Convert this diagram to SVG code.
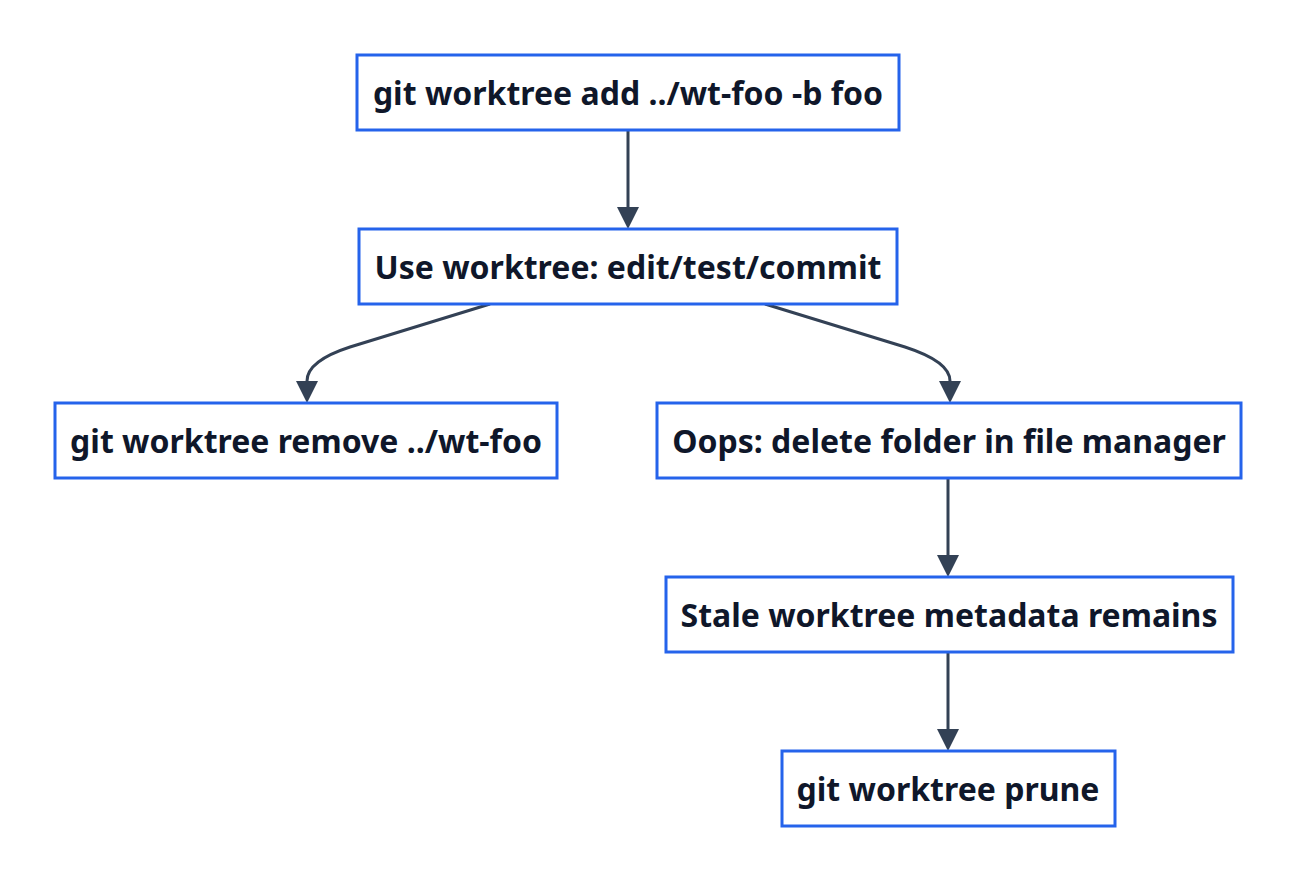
<svg xmlns="http://www.w3.org/2000/svg" width="1298" height="882" viewBox="0 0 1298 882">
<defs>
<style>
.node rect{fill:#ffffff;stroke:#2563eb;stroke-width:3}
.node text{font-family:"Noto Sans","Open Sans",sans-serif;font-weight:bold;font-size:32px;fill:#0f172a;text-anchor:middle;dominant-baseline:central}
.edges path{fill:none;stroke:#334155;stroke-width:3}
</style>
<marker id="arr" viewBox="0 0 22 22" refX="0" refY="11" markerWidth="22" markerHeight="22" markerUnits="userSpaceOnUse" orient="auto">
<path d="M0,0 L22,11 L0,22 z" fill="#334155"/>
</marker>
</defs>
<rect width="1298" height="882" fill="#ffffff"/>
<g class="edges">
<path d="M628,130 L628,207" marker-end="url(#arr)"/>
<path d="M490,304 L350,347 C316,358 307,370 307,381" marker-end="url(#arr)"/>
<path d="M765,304 L905,347 C939,358 950,370 950,381" marker-end="url(#arr)"/>
<path d="M948,478 L948,555" marker-end="url(#arr)"/>
<path d="M948,652 L948,729" marker-end="url(#arr)"/>
</g>
<g id="n1" class="node"><rect x="357" y="55" width="542" height="75"/><text x="628" y="92">git worktree add ../wt-foo -b foo</text></g>
<g id="n2" class="node"><rect x="359" y="229" width="538" height="75"/><text x="628" y="266">Use worktree: edit/test/commit</text></g>
<g id="n3" class="node"><rect x="55" y="403" width="502" height="75"/><text x="306" y="440">git worktree remove ../wt-foo</text></g>
<g id="n4" class="node"><rect x="657" y="403" width="584" height="75"/><text x="949" y="440">Oops: delete folder in file manager</text></g>
<g id="n5" class="node"><rect x="666" y="577" width="567" height="75"/><text x="949" y="614">Stale worktree metadata remains</text></g>
<g id="n6" class="node"><rect x="782" y="751" width="333" height="75"/><text x="948" y="788">git worktree prune</text></g>
</svg>
